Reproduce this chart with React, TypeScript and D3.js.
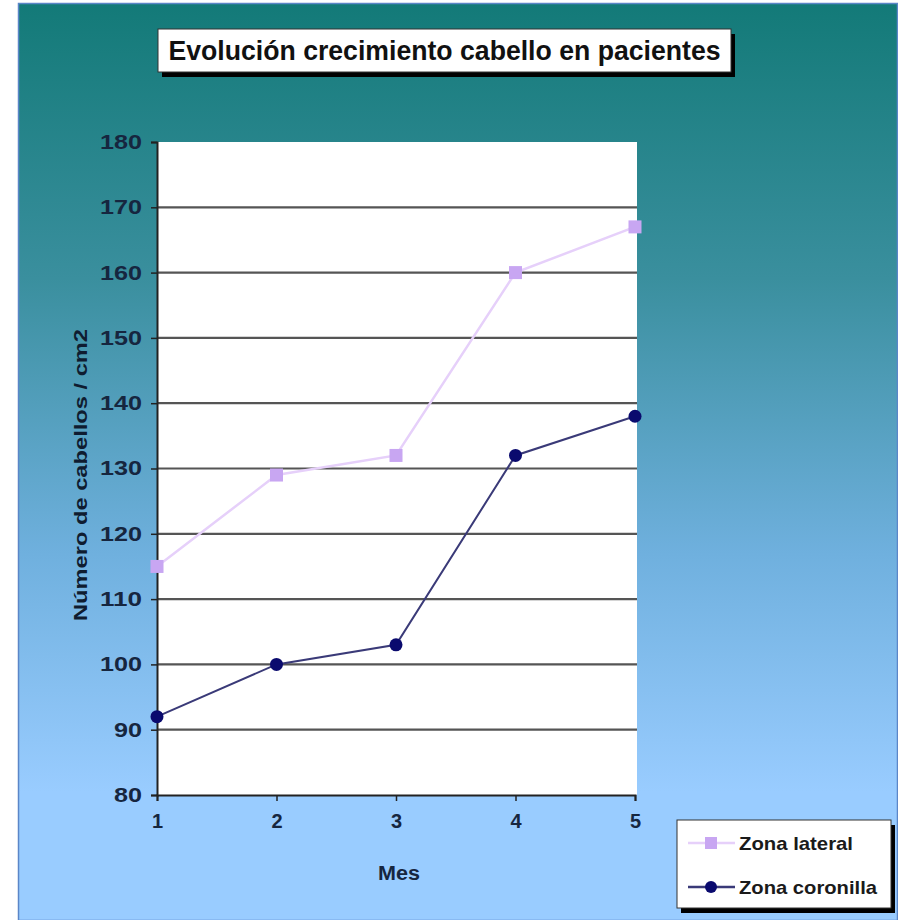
import React, { useEffect, useRef } from "react";
import * as d3 from "d3";

const months = [1, 2, 3, 4, 5];
const zonaLateral = [115, 129, 132, 160, 167];
const zonaCoronilla = [92, 100, 103, 132, 138];
const yTicks = [80, 90, 100, 110, 120, 130, 140, 150, 160, 170, 180];
const seriesNames = ["Zona lateral", "Zona coronilla"];
const titleText = "Evolución crecimiento cabello en pacientes";
const xTitle = "Mes";
const yTitle = "Número de cabellos / cm2";

const W = 898;
const H = 920;
const FONT = "Liberation Sans, Arial, sans-serif";

export default function App() {
  const ref = useRef<SVGSVGElement>(null);

  useEffect(() => {
    const svg = d3.select(ref.current);
    svg.selectAll("*").remove();

    const defs = svg.append("defs");
    const grad = defs
      .append("linearGradient")
      .attr("id", "bg")
      .attr("x1", 0)
      .attr("y1", 0)
      .attr("x2", 0)
      .attr("y2", 1);
    grad.append("stop").attr("offset", "0%").attr("stop-color", "#137a78");
    grad.append("stop").attr("offset", "30%").attr("stop-color", "#3a8f9e");
    grad.append("stop").attr("offset", "60%").attr("stop-color", "#6fb0de");
    grad.append("stop").attr("offset", "86%").attr("stop-color", "#99ccff");
    grad.append("stop").attr("offset", "100%").attr("stop-color", "#99ccff");

    svg
      .append("rect")
      .attr("x", 18.5)
      .attr("y", 3.5)
      .attr("width", W - 19)
      .attr("height", H - 3)
      .attr("fill", "url(#bg)")
      .attr("stroke", "#5b86c8")
      .attr("stroke-width", 1.5);

    const plot = { left: 157, right: 635, top: 142, bottom: 795 };
    const x = d3.scaleLinear().domain([1, 5]).range([plot.left, plot.right]);
    const y = d3.scaleLinear().domain([80, 180]).range([plot.bottom, plot.top]);

    svg
      .append("rect")
      .attr("x", plot.left)
      .attr("y", plot.top)
      .attr("width", plot.right - plot.left + 2)
      .attr("height", plot.bottom - plot.top)
      .attr("fill", "#ffffff");

    svg
      .append("g")
      .selectAll("line")
      .data(yTicks.filter((t) => t > 80 && t < 180))
      .join("line")
      .attr("x1", plot.left)
      .attr("x2", plot.right + 2)
      .attr("y1", (d) => y(d))
      .attr("y2", (d) => y(d))
      .attr("stroke", "#555555")
      .attr("stroke-width", 2.2);

    const tickStyle = (g: any) =>
      g
        .attr("font-family", FONT)
        .attr("font-size", 20)
        .attr("font-weight", "bold")
        .attr("fill", "#16263f");

    const yAxis = d3
      .axisLeft(y)
      .tickValues(yTicks)
      .tickSize(6)
      .tickPadding(9)
      .tickFormat(d3.format("d"));
    const gy = svg.append("g").attr("transform", `translate(${plot.left},0)`).call(yAxis);
    gy.select(".domain").attr("stroke", "#222222").attr("stroke-width", 2);
    gy.selectAll(".tick line").attr("stroke", "#222222").attr("stroke-width", 1.5);
    tickStyle(gy.selectAll(".tick text"))
      .attr("textLength", (d: number) => String(d).length * 14)
      .attr("lengthAdjust", "spacingAndGlyphs");

    const xAxis = d3
      .axisBottom(x)
      .tickValues(months)
      .tickSize(6)
      .tickPadding(13)
      .tickFormat(d3.format("d"));
    const gx = svg.append("g").attr("transform", `translate(0,${plot.bottom})`).call(xAxis);
    gx.select(".domain").attr("stroke", "#222222").attr("stroke-width", 2);
    gx.selectAll(".tick line").attr("stroke", "#222222").attr("stroke-width", 1.5);
    tickStyle(gx.selectAll(".tick text"));

    svg
      .append("text")
      .attr("x", (plot.left + plot.right) / 2 + 3)
      .attr("y", 880)
      .attr("text-anchor", "middle")
      .attr("font-family", FONT)
      .attr("font-size", 20)
      .attr("font-weight", "bold")
      .attr("fill", "#16263f")
      .attr("textLength", 42)
      .attr("lengthAdjust", "spacingAndGlyphs")
      .text(xTitle);

    svg
      .append("text")
      .attr("transform", `translate(87,475) rotate(-90)`)
      .attr("text-anchor", "middle")
      .attr("font-family", FONT)
      .attr("font-size", 19)
      .attr("font-weight", "bold")
      .attr("fill", "#0f1c30")
      .attr("textLength", 292)
      .attr("lengthAdjust", "spacingAndGlyphs")
      .text(yTitle);

    const line = d3
      .line<number>()
      .x((_, i) => x(months[i]))
      .y((d) => y(d));

    svg
      .append("path")
      .attr("d", line(zonaLateral))
      .attr("fill", "none")
      .attr("stroke", "#e6d0fa")
      .attr("stroke-width", 2.5);
    svg
      .append("g")
      .selectAll("rect")
      .data(zonaLateral)
      .join("rect")
      .attr("x", (_, i) => x(months[i]) - 6.5)
      .attr("y", (d) => y(d) - 6.5)
      .attr("width", 13)
      .attr("height", 13)
      .attr("fill", "#c8a6f2");

    svg
      .append("path")
      .attr("d", line(zonaCoronilla))
      .attr("fill", "none")
      .attr("stroke", "#3a3a78")
      .attr("stroke-width", 2);
    svg
      .append("g")
      .selectAll("circle")
      .data(zonaCoronilla)
      .join("circle")
      .attr("cx", (_, i) => x(months[i]))
      .attr("cy", (d) => y(d))
      .attr("r", 6.5)
      .attr("fill", "#0a0a6e");

    const tb = { x: 158, y: 29, w: 573, h: 43 };
    svg
      .append("rect")
      .attr("x", tb.x + 4)
      .attr("y", tb.y + 5)
      .attr("width", tb.w)
      .attr("height", tb.h)
      .attr("fill", "#000000");
    svg
      .append("rect")
      .attr("x", tb.x)
      .attr("y", tb.y)
      .attr("width", tb.w)
      .attr("height", tb.h)
      .attr("fill", "#ffffff")
      .attr("stroke", "#333333")
      .attr("stroke-width", 1);
    svg
      .append("text")
      .attr("x", tb.x + tb.w / 2)
      .attr("y", tb.y + 31)
      .attr("text-anchor", "middle")
      .attr("font-family", FONT)
      .attr("font-size", 27)
      .attr("font-weight", "bold")
      .attr("fill", "#111111")
      .attr("textLength", 552)
      .attr("lengthAdjust", "spacingAndGlyphs")
      .text(titleText);

    const lg = { x: 677, y: 820, w: 214, h: 88 };
    svg
      .append("rect")
      .attr("x", lg.x + 4)
      .attr("y", lg.y + 5)
      .attr("width", lg.w)
      .attr("height", lg.h)
      .attr("fill", "#000000");
    svg
      .append("rect")
      .attr("x", lg.x)
      .attr("y", lg.y)
      .attr("width", lg.w)
      .attr("height", lg.h)
      .attr("fill", "#ffffff")
      .attr("stroke", "#333333")
      .attr("stroke-width", 1);

    const legendRows = [
      { name: seriesNames[0], cy: 843, len: 114, color: "#e6d0fa", marker: "square", mcolor: "#c8a6f2" },
      { name: seriesNames[1], cy: 887, len: 138, color: "#3a3a78", marker: "circle", mcolor: "#0a0a6e" },
    ];
    legendRows.forEach((r) => {
      svg
        .append("line")
        .attr("x1", 688)
        .attr("x2", 735)
        .attr("y1", r.cy)
        .attr("y2", r.cy)
        .attr("stroke", r.color)
        .attr("stroke-width", 2.5);
      if (r.marker === "square") {
        svg
          .append("rect")
          .attr("x", 711 - 6)
          .attr("y", r.cy - 6)
          .attr("width", 12)
          .attr("height", 12)
          .attr("fill", r.mcolor);
      } else {
        svg
          .append("circle")
          .attr("cx", 711)
          .attr("cy", r.cy)
          .attr("r", 6)
          .attr("fill", r.mcolor);
      }
      svg
        .append("text")
        .attr("x", 739)
        .attr("y", r.cy + 7)
        .attr("font-family", FONT)
        .attr("font-size", 19)
        .attr("font-weight", "bold")
        .attr("fill", "#1a1a1a")
        .attr("textLength", r.len)
        .attr("lengthAdjust", "spacingAndGlyphs")
        .text(r.name);
    });
  }, []);

  return (
    <svg
      ref={ref}
      width={W}
      height={H}
      style={{ position: "absolute", left: 0, top: 0, background: "#ffffff" }}
    />
  );
}
